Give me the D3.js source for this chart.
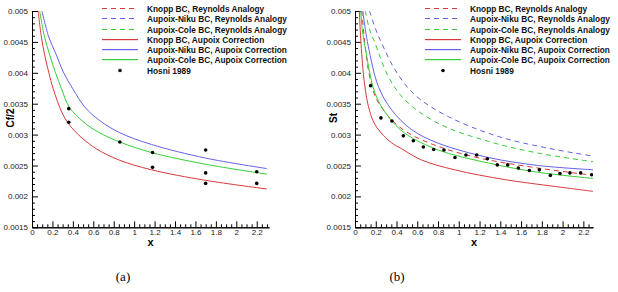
<!DOCTYPE html>
<html>
<head>
<meta charset="utf-8">
<script src="https://cdn.jsdelivr.net/npm/d3@7"></script>
<style>
  body { margin: 0; background: #fff; }
  svg { display: block; }
</style>
</head>
<body>
<div id="fig"></div>
<script>
// -----------------------------------------
// DATA
// -----------------------------------------
// x ticks / y ticks
var xTicks = [0, 0.2, 0.4, 0.6, 0.8, 1, 1.2, 1.4, 1.6, 1.8, 2, 2.2];
var yTicks = [0.0015, 0.002, 0.0025, 0.003, 0.0035, 0.004, 0.0045, 0.005];

var legendNames = [
  "Knopp BC, Reynolds Analogy",
  "Aupoix-Niku BC, Reynolds Analogy",
  "Aupoix-Cole BC, Reynolds Analogy",
  "Knopp BC, Aupoix Correction",
  "Aupoix-Niku BC, Aupoix Correction",
  "Aupoix-Cole BC, Aupoix Correction",
  "Hosni 1989"
];

// (a) skin friction Cf/2
var cfKnoppAupoix = [[0.06,0.005],[0.09,0.0046],[0.124,0.00429],[0.165,0.004],[0.206,0.00375],[0.304,0.00332],[0.4,0.00309],[0.5,0.00293],[0.63,0.00277],[0.85,0.00259],[1.17,0.00243],[1.7,0.00226],[2.3,0.00212]];
var cfNikuAupoix  = [[0.098,0.005],[0.16,0.0046],[0.238,0.00429],[0.31,0.004],[0.4,0.00374],[0.52,0.00344],[0.66,0.00323],[0.86,0.00303],[1.17,0.00284],[1.7,0.00262],[2.3,0.00245]];
var cfColeAupoix  = [[0.075,0.005],[0.12,0.0046],[0.173,0.00429],[0.23,0.004],[0.287,0.00375],[0.366,0.00344],[0.5,0.00321],[0.65,0.00304],[0.86,0.00288],[1.17,0.00271],[1.7,0.00252],[2.3,0.00236]];
var cfHosni = [[0.36,0.00342],[0.36,0.0032],[0.86,0.00288],[1.18,0.00271],[1.18,0.00247],[1.7,0.00275],[1.7,0.00238],[1.7,0.00221],[2.2,0.0024],[2.2,0.00221]];

// (b) Stanton number St
var stKnoppReynolds = [[0.065,0.005],[0.1,0.0044],[0.14,0.00395],[0.2,0.0036],[0.33,0.00328],[0.5,0.00304],[0.8,0.00281],[1.2,0.00262],[1.8,0.00245],[2.3,0.00234]];
var stNikuReynolds  = [[0.14,0.005],[0.2,0.0047],[0.257,0.00448],[0.385,0.00405],[0.578,0.00364],[0.9,0.00329],[1.38,0.00297],[1.86,0.00278],[2.3,0.00265]];
var stColeReynolds  = [[0.1,0.005],[0.14,0.0047],[0.193,0.00448],[0.321,0.00394],[0.482,0.00356],[0.803,0.00318],[1.285,0.00289],[1.766,0.0027],[2.3,0.00256]];
var stKnoppAupoix   = [[0.042,0.005],[0.05,0.0047],[0.065,0.0043],[0.08,0.004],[0.1,0.00372],[0.13,0.00345],[0.18,0.0032],[0.25,0.00303],[0.35,0.00287],[0.45,0.00277],[0.64,0.00259],[0.96,0.00243],[1.45,0.00227],[1.93,0.00216],[2.3,0.00208]];
var stNikuAupoix    = [[0.075,0.005],[0.1,0.0047],[0.128,0.00443],[0.225,0.00378],[0.353,0.0034],[0.546,0.00308],[0.803,0.00286],[1.285,0.00263],[1.766,0.0025],[2.3,0.00243]];
var stColeAupoix    = [[0.055,0.005],[0.07,0.0047],[0.096,0.00443],[0.193,0.00367],[0.321,0.00329],[0.482,0.00302],[0.803,0.00275],[1.285,0.00254],[1.766,0.00239],[2.3,0.00229]];
var stHosni = [[0.15,0.00379],[0.25,0.00327],[0.356,0.00322],[0.466,0.00298],[0.562,0.0029],[0.658,0.0028],[0.758,0.00276],[0.857,0.00275],[0.963,0.00263],[1.069,0.00267],[1.172,0.00267],[1.275,0.00261],[1.371,0.00251],[1.471,0.00251],[1.574,0.00246],[1.68,0.00242],[1.776,0.00243],[1.882,0.00234],[1.975,0.00237],[2.071,0.00238],[2.174,0.00238],[2.28,0.00235]];

// -----------------------------------------
// FORMAT VARIABLES
// -----------------------------------------
var W = 618, H = 292;
var red = "#d83a3a", blue = "#6262e6", green = "#38cc38";
var fontF = "Liberation Sans, Arial, sans-serif";
var dash = "5,4";
var styles = [
  {color: red, dash: dash}, {color: blue, dash: dash}, {color: green, dash: dash},
  {color: red, dash: "none"}, {color: blue, dash: "none"}, {color: green, dash: "none"}
];

var svg = d3.select("#fig").append("svg")
  .attr("width", W)
  .attr("height", H);

function drawPanel(p) {
  var x = d3.scaleLinear().domain([0, p.xMax]).range([p.left, p.right]);
  var y = d3.scaleLinear().domain([0.0015, 0.005]).range([227.3, 11]);
  var g = svg.append("g");

  var clipId = "clip" + p.id;
  g.append("clipPath").attr("id", clipId)
    .append("rect")
    .attr("x", p.left).attr("y", 11)
    .attr("width", p.right - p.left).attr("height", 227.3 - 11);

  // minor ticks
  var xMinor = d3.range(0, p.xMax + 1e-9, 0.05).filter(function(v){ return Math.abs(v/0.2 - Math.round(v/0.2)) > 1e-6; });
  var yMinor = d3.range(15, 51).map(function(i){ return i/10000; }).filter(function(v){ return Math.abs(v*2000 - Math.round(v*2000)) > 1e-6; });

  g.append("g").attr("transform", "translate(0,227.3)")
    .call(d3.axisBottom(x).tickValues(xMinor).tickSizeInner(-3).tickSizeOuter(0).tickFormat(""));
  g.append("g").attr("transform", "translate(" + p.left + ",0)")
    .call(d3.axisLeft(y).tickValues(yMinor).tickSizeInner(-3).tickSizeOuter(0).tickFormat(""));

  // major ticks
  g.append("g").attr("transform", "translate(0,227.3)")
    .call(d3.axisBottom(x).tickValues(xTicks).tickSizeInner(-6).tickSizeOuter(0).tickPadding(2).tickFormat(d3.format("~g")));
  g.append("g").attr("transform", "translate(" + p.left + ",0)")
    .call(d3.axisLeft(y).tickValues(yTicks).tickSizeInner(-6).tickSizeOuter(0).tickPadding(4).tickFormat(d3.format("~g")));

  g.selectAll(".tick text").style("font-family", fontF).style("font-size", "8px").attr("fill", "#222");
  g.selectAll(".domain").attr("stroke", "#000");
  g.selectAll(".tick line").attr("stroke", "#000");

  // axis titles
  g.append("text")
    .attr("x", (p.left + p.right) / 2).attr("y", 246)
    .attr("text-anchor", "middle")
    .style("font-family", fontF).style("font-size", "11px").style("font-weight", "bold")
    .text("x");
  g.append("text")
    .attr("transform", "translate(" + (p.left - 18) + ",118) rotate(-90)")
    .attr("text-anchor", "middle")
    .style("font-family", fontF).style("font-size", "10px").style("font-weight", "bold")
    .text(p.yTitle);

  // curves
  var line = d3.line()
    .x(function(d){ return x(d[0]); })
    .y(function(d){ return y(d[1]); })
    .curve(d3.curveCatmullRom.alpha(0.5));

  var curves = g.append("g").attr("clip-path", "url(#" + clipId + ")");
  p.series.forEach(function(s, i){
    if (!s) return;
    curves.append("path")
      .datum(s)
      .attr("d", line)
      .attr("fill", "none")
      .attr("stroke", styles[i].color)
      .attr("stroke-width", 1)
      .attr("stroke-dasharray", styles[i].dash);
  });

  curves.selectAll("circle.pt")
    .data(p.points)
    .enter().append("circle")
    .attr("class", "pt")
    .attr("cx", function(d){ return x(d[0]); })
    .attr("cy", function(d){ return y(d[1]); })
    .attr("r", 1.8)
    .attr("fill", "#000");

  // legend
  var lg = g.append("g");
  legendNames.forEach(function(name, i){
    var ly = Math.round(8 + i * 10.25);
    if (i < 3) {
      lg.append("path")
        .attr("d", "M" + p.legX + "," + (ly + 0.5) + "H" + (p.legX + 36))
        .attr("fill", "none")
        .style("stroke", styles[i].color)
        .style("stroke-width", 1)
        .style("stroke-dasharray", styles[i].dash);
    } else if (i < 6) {
      // solid sample drawn as a thin filled bar
      lg.append("rect")
        .attr("x", p.legX).attr("y", ly)
        .attr("width", 36).attr("height", 1.2)
        .attr("fill", styles[i].color);
    } else {
      lg.append("circle")
        .attr("cx", p.legX + 18).attr("cy", ly + 0.5)
        .attr("r", 1.8).attr("fill", "#000");
    }
    lg.append("text")
      .attr("x", p.legX + 45).attr("y", ly + 3.5)
      .style("font-family", fontF).style("font-size", "8.3px").style("font-weight", "bold")
      .attr("fill", "#111")
      .text(name);
  });

  // caption
  svg.append("text")
    .attr("x", p.capX).attr("y", 281)
    .attr("text-anchor", "middle")
    .style("font-family", "Liberation Serif, DejaVu Serif, serif")
    .style("font-size", "13px")
    .text(p.caption);
}

drawPanel({
  id: "a", left: 32, right: 269, xMax: 2.32, yTitle: "Cf/2",
  legX: 102, capX: 123, caption: "(a)",
  series: [null, null, null, cfKnoppAupoix, cfNikuAupoix, cfColeAupoix],
  points: cfHosni
});

drawPanel({
  id: "b", left: 355, right: 593, xMax: 2.293, yTitle: "St",
  legX: 425, capX: 397, caption: "(b)",
  series: [stKnoppReynolds, stNikuReynolds, stColeReynolds, stKnoppAupoix, stNikuAupoix, stColeAupoix],
  points: stHosni
});
</script>
</body>
</html>
